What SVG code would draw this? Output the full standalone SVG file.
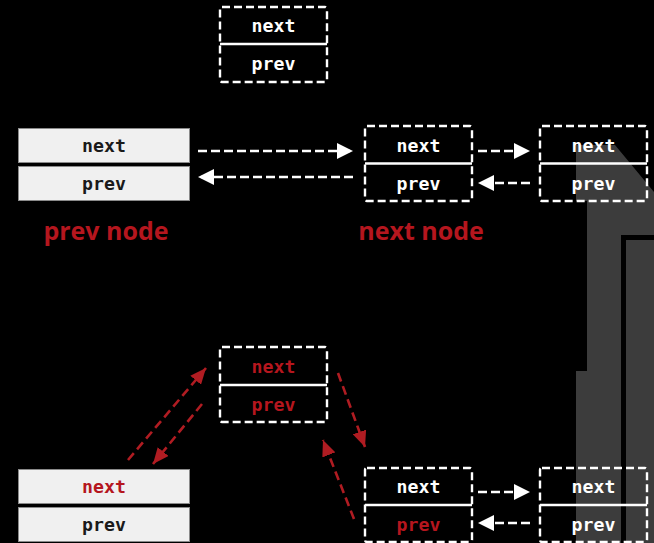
<svg xmlns="http://www.w3.org/2000/svg" width="654" height="543" viewBox="0 0 654 543">
  <defs>
    <style>
      .bg { fill: #000; }
      .deco { fill: #3c3c3c; }
      .slot { fill: none; stroke: #fff; stroke-width: 2.4; stroke-dasharray: 8 4; }
      .div { stroke: #fff; stroke-width: 2.4; }
      .solid { fill: #f0f0f0; stroke: #8a8a8a; stroke-width: 1; }
      .t { font-family: "DejaVu Sans Mono", "Liberation Mono", monospace; font-weight: bold; font-size: 18.2px; text-anchor: middle; }
      .w { fill: #fff; }
      .k { fill: #1a1a1a; }
      .r { fill: #b5161e; }
      .lbl { font-family: "Open Sans", "Liberation Sans", sans-serif; font-weight: bold; font-size: 25px; fill: #b5161e; text-anchor: middle; }
      .wl { fill: none; stroke: #fff; stroke-width: 2.6; stroke-dasharray: 9 4; }
      .rl { fill: none; stroke: #b01c22; stroke-width: 2.6; stroke-dasharray: 9 5; }
    </style>
    <marker id="wh" viewBox="0 0 16 16" refX="16" refY="8" markerWidth="16" markerHeight="16" markerUnits="userSpaceOnUse" orient="auto">
      <path d="M0,0 L16,8 L0,16 Z" fill="#fff"/>
    </marker>
    <marker id="rh" viewBox="0 0 16 14" refX="16" refY="7" markerWidth="16" markerHeight="14" markerUnits="userSpaceOnUse" orient="auto">
      <path d="M0,0 L16,7 L0,14 Z" fill="#b01c22"/>
    </marker>
  </defs>

  <rect class="bg" x="0" y="0" width="654" height="543"/>

  <!-- background decoration on the right -->
  <g id="decoration">
    <polygon class="deco" points="576,145 615,145 654,192 654,543 576,543 576,371 587,371 587,201 576,201"/>
    <rect x="621" y="235" width="40" height="320" fill="#000"/>
    <rect class="deco" x="626" y="240" width="40" height="320"/>
  </g>

  <!-- connectors -->
  <g id="connectors">
    <line class="wl" x1="198" y1="151" x2="353" y2="151" marker-end="url(#wh)"/>
    <line class="wl" x1="353" y1="177" x2="198" y2="177" marker-end="url(#wh)"/>
    <line class="wl" x1="478" y1="151" x2="530" y2="151" marker-end="url(#wh)"/>
    <line class="wl" x1="530" y1="183" x2="478" y2="183" marker-end="url(#wh)"/>
    <line class="wl" x1="478" y1="492" x2="530" y2="492" marker-end="url(#wh)"/>
    <line class="wl" x1="530" y1="523" x2="478" y2="523" marker-end="url(#wh)"/>
    <line class="rl" x1="128" y1="460" x2="206" y2="368" marker-end="url(#rh)"/>
    <line class="rl" x1="202" y1="404" x2="153" y2="464" marker-end="url(#rh)"/>
    <line class="rl" x1="338" y1="373" x2="365" y2="447" marker-end="url(#rh)"/>
    <line class="rl" x1="354" y1="519" x2="323" y2="440" marker-end="url(#rh)"/>
  </g>

  <!-- new node, top -->
  <g id="node-new-top">
    <rect class="slot" x="220" y="7" width="107" height="75" rx="2"/>
    <line class="div" x1="220" y1="44" x2="327" y2="44"/>
    <text class="t w" x="273.5" y="32">next</text>
    <text class="t w" x="273.5" y="70">prev</text>
  </g>

  <!-- prev node, top -->
  <g id="node-prev-top">
    <rect class="solid" x="18.5" y="128.5" width="171" height="34"/>
    <rect class="solid" x="18.5" y="166.5" width="171" height="34"/>
    <text class="t k" x="104" y="152">next</text>
    <text class="t k" x="104" y="190">prev</text>
    <text class="lbl" x="106" y="240">prev node</text>
  </g>

  <!-- next node, top -->
  <g id="node-next-top">
    <rect class="slot" x="365" y="126" width="107" height="75" rx="2"/>
    <line class="div" x1="365" y1="163.5" x2="472" y2="163.5"/>
    <text class="t w" x="418.5" y="152">next</text>
    <text class="t w" x="418.5" y="190">prev</text>
    <text class="lbl" x="421" y="240">next node</text>
  </g>

  <!-- following node, top -->
  <g id="node-after-top">
    <rect class="slot" x="540" y="126" width="107" height="75" rx="2"/>
    <line class="div" x1="540" y1="163.5" x2="647" y2="163.5"/>
    <text class="t w" x="593.5" y="152">next</text>
    <text class="t w" x="593.5" y="190">prev</text>
  </g>

  <!-- new node, bottom (linked) -->
  <g id="node-new-bottom">
    <rect class="slot" x="220" y="347" width="107" height="75" rx="2"/>
    <line class="div" x1="220" y1="385" x2="327" y2="385"/>
    <text class="t r" x="273.5" y="373">next</text>
    <text class="t r" x="273.5" y="411">prev</text>
  </g>

  <!-- prev node, bottom -->
  <g id="node-prev-bottom">
    <rect class="solid" x="18.5" y="469.5" width="171" height="34"/>
    <rect class="solid" x="18.5" y="507.5" width="171" height="34"/>
    <text class="t r" x="104" y="493">next</text>
    <text class="t k" x="104" y="531">prev</text>
  </g>

  <!-- next node, bottom -->
  <g id="node-next-bottom">
    <rect class="slot" x="365" y="468" width="107" height="74" rx="2"/>
    <line class="div" x1="365" y1="505" x2="472" y2="505"/>
    <text class="t w" x="418.5" y="493">next</text>
    <text class="t r" x="418.5" y="531">prev</text>
  </g>

  <!-- following node, bottom -->
  <g id="node-after-bottom">
    <rect class="slot" x="540" y="468" width="107" height="74" rx="2"/>
    <line class="div" x1="540" y1="505" x2="647" y2="505"/>
    <text class="t w" x="593.5" y="493">next</text>
    <text class="t w" x="593.5" y="531">prev</text>
  </g>
</svg>
